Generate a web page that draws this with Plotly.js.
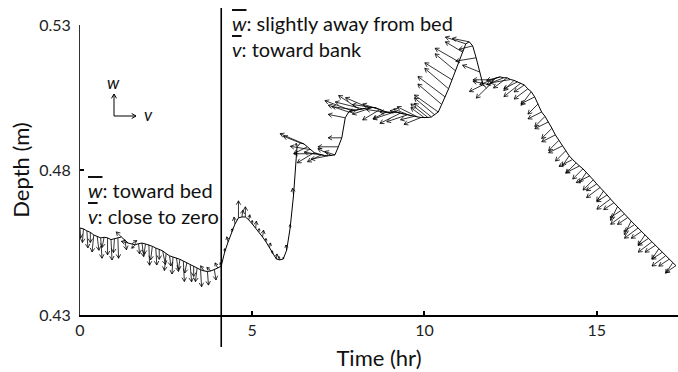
<!DOCTYPE html>
<html><head><meta charset="utf-8">
<script src="https://cdn.plot.ly/plotly-3.0.1.min.js"></script>
<style>html,body{margin:0;padding:0;background:#fff}#c{width:678px;height:372px}</style>
</head><body><div id="c"></div>
<script>
// time (hr)
const TIME = [0.0,0.1,0.2,0.3,0.4,0.5,0.6,0.7,0.8,0.9,1.0,1.1,1.2,1.3,1.4,1.5,1.6,1.7,1.8,1.9,
2.0,2.1,2.2,2.3,2.4,2.5,2.6,2.7,2.8,2.9,3.0,3.1,3.2,3.3,3.4,3.5,3.6,3.7,3.8,3.9,4.0,
4.1,4.2,4.3,4.4,4.5,4.6,4.7,4.8,4.9,5.0,5.1,5.2,5.3,5.4,5.5,5.6,5.7,5.8,5.9,6.0,6.1,6.2,6.3,
6.4,6.5,6.6,6.7,6.8,6.9,7.0,7.1,7.2,7.3,7.4,7.5,7.6,7.7,7.8,7.9,8.0,8.1,8.2,8.3,8.4,8.5,8.6,8.7,8.8,8.9,
9.0,9.1,9.2,9.3,9.4,9.5,9.6,9.7,9.8,9.9,10.0,10.1,10.2,10.3,10.4,10.5,10.6,10.7,10.8,10.9,
11.0,11.1,11.2,11.3,11.4,11.5,11.6,11.7,11.8,11.9,12.0,12.1,12.2,12.3,12.4,12.5,12.6,12.7,12.8,12.9,
13.0,13.1,13.2,13.3,13.4,13.5,13.6,13.7,13.8,13.9,14.0,14.1,14.2,14.3,14.4,14.5,14.6,14.7,14.8,14.9,
15.0,15.1,15.2,15.3,15.4,15.5,15.6,15.7,15.8,15.9,16.0,16.1,16.2,16.3,16.4,16.5,16.6,16.7,16.8,16.9,
17.0,17.1,17.2,17.3];
// depth (m)
const DEPTH = [.4600,.4597,.4590,.4585,.4576,.4570,.4566,.4568,.4566,.4560,.4562,.4566,.4569,.4560,.4548,.4545,.4542,.4546,.4548,.4545,
.4542,.4537,.4531,.4527,.4521,.4512,.4504,.4500,.4497,.4492,.4486,.4480,.4473,.4468,.4462,.4456,.4452,.4450,.4452,.4456,.4462,
.4469,.4517,.4552,.4586,.4614,.4635,.4638,.4638,.4628,.4614,.4600,.4586,.4569,.4552,.4531,.4510,.4493,.4490,.4493,.4524,.4600,.4714,.4880,
.4893,.4890,.4880,.4870,.4860,.4856,.4852,.4850,.4849,.4850,.4852,.4880,.4911,.4980,.5000,.5004,.5007,.5010,.5011,.5013,.5014,.5016,.5014,.5008,.5004,.5000,
.4997,.4999,.5000,.4996,.4993,.4990,.4987,.4985,.4983,.4981,.4980,.4981,.4983,.4990,.5000,.5026,.5052,.5080,.5111,.5142,
.5173,.5207,.5235,.5242,.5228,.5187,.5138,.5094,.5083,.5094,.5111,.5118,.5121,.5118,.5118,.5112,.5109,.5104,.5100,.5093,
.5080,.5070,.5052,.5028,.5000,.4985,.4966,.4944,.4921,.4902,.4883,.4866,.4849,.4836,.4824,.4814,.4804,.4792,.4780,.4766,
.4752,.4740,.4728,.4714,.4700,.4687,.4673,.4660,.4648,.4636,.4624,.4612,.4600,.4588,.4576,.4564,.4552,.4540,.4528,.4516,
.4504,.4492,.4479,.4470];
// lateral velocity v (cm/s), positive away from bank
const V = [0.2,-0.3,0.3,0,-0.5,0.5,0.4,-0.6,0,0.3,-0.3,0.2,-1.5,0.5,-2,1.5,-1,0.3,0.5,-0.4,
0.2,-0.5,0.3,0,0.8,-0.5,0.4,-0.3,0.6,-0.4,0.3,-0.6,0.4,0,-0.5,0.3,-1,0.3,-1.2,0.5,-0.8,
-0.3,0,-0.4,0.2,-0.3,0,0.3,0,0.3,0,0.2,0,0.3,0,0.3,-0.3,0.2,-0.3,0,-0.2,0,-0.3,-0.3,
-5,-7,-4,-6,-5,-7,-4,-6,-5,-4,-3,-6,-4,-5,-6,-8,-7,-6,-8,-5,-7,-6,-7,-5,-6,-4,
-7,-6,-5,-6,-4,-6,-5,-4,-6,-5,-4,-5,-5,-6,-7,-7,-8,-7,-8,-6,
-7,-5,-6,-5,-4,-6,-5,-4,-3,-5,-6,-5,-4,-5,-4,-6,-3,-4,-5,-3,
-4,-3,-4,-3,-4,-3,-4,-3,-4,-3,-4,-3,-2,-4,-3,-4,-3,-2,-4,-3,
-3,-4,-2,-3,-4,-3,-2,-3,-4,-3,-2,-3,-4,-3,-2,-3,-4,-3,-2,-3,
-4,-3,-2,-3];
// vertical velocity w (cm/s), positive away from bed
const W = [-3,-4,-5,-3,-5,-4,-6,-3,-5,-6,-4,-6,1.5,-3,0.5,1,-1,-3,-4,-3,
-6,-4,-5,-3,-4,-5,-3,-5,-4,-3,-6,-3,-5,-3,-4,-5,1.5,-4,1,-3,1.5,
1,1,1.5,1,2,5,2,3,1.5,1,2,1,2,1,1.5,1,1.5,1,0.5,1.5,1,2,1,
2,3,-2,1,-3,0,-2,1,-1,2,1,0,0,1,2,3,1,4,2,-1,3,-2,1,-3,2,-2,
1,-2,0,-3,1,-2,2,-1,3,-2,3,4,4,5,5,6,6,6,5,5,
4,3,2,1,-1,-1,2,-2,-3,1,0,-2,-1,-2,-3,-1,-3,-2,-4,-2,
-3,-4,-2,-3,-2,-3,-2,-3,-2,-3,-2,-3,-3,-2,-3,-2,-3,-3,-2,-3,
-2,-3,-3,-2,-3,-2,-4,-2,-3,-2,-4,-2,-3,-2,-3,-2,-3,-2,-3,-2,
-3,-2,-3,-2];
const X_TICKS = [0,5,10,15];
const Y_TICKS = [0.43,0.48,0.53];
const EVENT_TIME = 4.1;

const W0=678,H0=372,ML=80,MR=0,MT=25,MB=57;
const XR=[0,17.36], YR=[0.43,0.53];
const pxT=(W0-ML-MR)/(XR[1]-XR[0]);
const pxD=(H0-MT-MB)/(YR[1]-YR[0]);
const SCALE=3.4, HEAD=4.5, ANG=30*Math.PI/180;

const qx=[],qy=[];
for(let i=0;i<TIME.length;i++){
  const dx=V[i]*SCALE, dy=W[i]*SCALE, len=Math.hypot(dx,dy);
  if(len<0.5) continue;
  const t0=TIME[i], d0=DEPTH[i];
  const toT=p=>t0+p/pxT, toD=p=>d0+p/pxD;
  qx.push(t0,toT(dx),null); qy.push(d0,toD(dy),null);
  const ux=-dx/len, uy=-dy/len, h=Math.min(HEAD,len*0.6);
  const w=[];
  for(const s of [1,-1]){
    const a=s*ANG;
    w.push([dx+h*(ux*Math.cos(a)-uy*Math.sin(a)), dy+h*(ux*Math.sin(a)+uy*Math.cos(a))]);
  }
  qx.push(toT(w[0][0]),toT(dx),toT(w[1][0]),null);
  qy.push(toD(w[0][1]),toD(dy),toD(w[1][1]),null);
}

// inset legend arrows (paper coords from pixels)
const px2x=p=>(p-ML)/(W0-ML-MR), px2y=p=>(H0-MB-p)/(H0-MT-MB);
function arrowPath(x0,y0,x1,y1){
  const L=Math.hypot(x1-x0,y1-y0), ux=(x0-x1)/L, uy=(y0-y1)/L, h=5, a=30*Math.PI/180;
  const w1=[x1+h*(ux*Math.cos(a)-uy*Math.sin(a)), y1+h*(ux*Math.sin(a)+uy*Math.cos(a))];
  const w2=[x1+h*(ux*Math.cos(-a)-uy*Math.sin(-a)), y1+h*(ux*Math.sin(-a)+uy*Math.cos(-a))];
  const f=(p)=>px2x(p[0])+','+px2y(p[1]);
  return 'M'+f([x0,y0])+'L'+f([x1,y1])+'M'+f(w1)+'L'+f([x1,y1])+'L'+f(w2);
}

const FONT='Lato, "Open Sans", sans-serif';
const ov=(s)=>'<i><span style="text-decoration:overline">'+s+'</span></i>';

const data=[
  {x:TIME,y:DEPTH,type:'scatter',mode:'lines',line:{color:'#000',width:1},hoverinfo:'skip'},
  {x:qx,y:qy,type:'scatter',mode:'lines',line:{color:'#000',width:0.8},hoverinfo:'skip',connectgaps:false}
];
const layout={
  width:W0,height:H0,margin:{l:ML,r:MR,t:MT,b:MB},
  paper_bgcolor:'#fff',plot_bgcolor:'#fff',showlegend:false,
  font:{family:FONT,color:'#222',size:16},
  xaxis:{range:XR,tickvals:X_TICKS,ticktext:X_TICKS.map(String),showgrid:false,zeroline:false,
    showline:true,linecolor:'#000',linewidth:2,ticks:'inside',ticklen:4,tickwidth:2,tickcolor:'#000',
    tickfont:{size:16,color:'#222'},title:{text:'Time (hr)',font:{size:22,color:'#111'},standoff:12}},
  yaxis:{range:YR,tickvals:Y_TICKS,ticktext:Y_TICKS.map(v=>v.toFixed(2)),showgrid:false,zeroline:false,
    showline:true,linecolor:'#333',linewidth:1,ticks:'inside',ticklen:4,tickwidth:2,tickcolor:'#000',
    ticklabelstandoff:5,
    tickfont:{size:16,color:'#222'},title:{text:'Depth (m)',font:{size:22,color:'#111'},standoff:3}},
  shapes:[
    {type:'line',xref:'x',yref:'paper',x0:EVENT_TIME,x1:EVENT_TIME,y0:-0.11,y1:1.059,line:{color:'#000',width:1.6}},
    {type:'path',xref:'paper',yref:'paper',path:arrowPath(114,116,114,94),line:{color:'#000',width:1}},
    {type:'path',xref:'paper',yref:'paper',path:arrowPath(114,116,136,116),line:{color:'#000',width:1}}
  ],
  annotations:[
    {xref:'paper',yref:'paper',x:px2x(86),y:px2y(176),xanchor:'left',yanchor:'top',align:'left',showarrow:false,
     text:ov('w')+': toward bed<br>'+ov('v')+': close to zero',font:{size:20,color:'#111'}},
    {xref:'paper',yref:'paper',x:px2x(230),y:px2y(9),xanchor:'left',yanchor:'top',align:'left',showarrow:false,
     text:ov('w')+': slightly away from bed<br>'+ov('v')+': toward bank',font:{size:20,color:'#111'}},
    {xref:'paper',yref:'paper',x:px2x(113),y:px2y(83),xanchor:'center',yanchor:'middle',showarrow:false,text:'<i>w</i>',font:{size:17,color:'#111'}},
    {xref:'paper',yref:'paper',x:px2x(148),y:px2y(115),xanchor:'center',yanchor:'middle',showarrow:false,text:'<i>v</i>',font:{size:17,color:'#111'}}
  ]
};
Plotly.newPlot('c',data,layout,{staticPlot:true,displayModeBar:false});
</script></body></html>
